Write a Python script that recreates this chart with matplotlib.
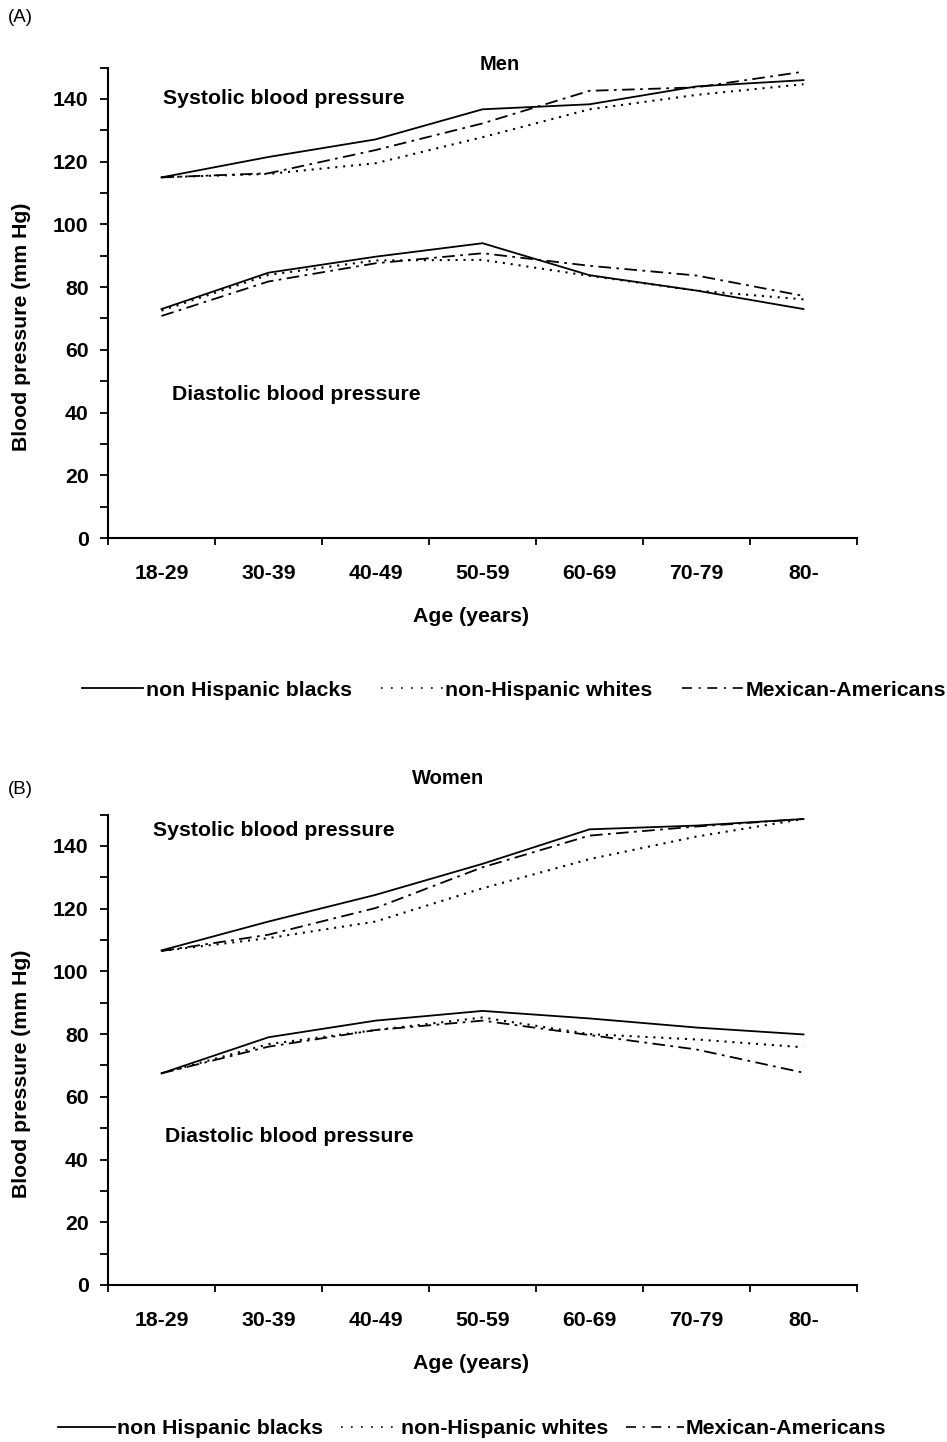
import matplotlib
matplotlib.use("Agg")
import matplotlib.pyplot as plt
from matplotlib.ticker import MultipleLocator, FixedLocator, NullFormatter
from matplotlib.lines import Line2D
import numpy as np

plt.rcParams['font.family'] = ['Liberation Sans', 'DejaVu Sans']

age_groups = ["18-29", "30-39", "40-49", "50-59", "60-69", "70-79", "80-"]
series_names = ["non Hispanic blacks", "non-Hispanic whites", "Mexican-Americans"]

# Men
men_sys_black = [115.0, 121.5, 127.1, 136.7, 138.3, 144.0, 146.0]
men_sys_white = [115.0, 116.1, 119.5, 127.8, 136.7, 141.3, 144.7]
men_sys_mex = [115.0, 116.3, 123.7, 132.2, 142.6, 143.7, 148.7]
men_dia_black = [73.0, 84.6, 89.7, 94.0, 83.8, 78.9, 73.0]
men_dia_white = [72.5, 83.9, 88.5, 88.7, 83.6, 78.9, 76.1]
men_dia_mex = [70.8, 81.8, 87.6, 90.8, 86.8, 83.7, 77.2]

# Women
women_sys_black = [106.7, 115.9, 124.4, 134.3, 145.3, 146.5, 148.6]
women_sys_white = [106.5, 110.6, 115.9, 126.5, 135.8, 143.0, 148.6]
women_sys_mex = [106.5, 111.7, 120.2, 133.2, 143.3, 146.2, 148.6]
women_dia_black = [67.5, 79.0, 84.3, 87.4, 85.0, 82.1, 79.9]
women_dia_white = [67.5, 76.8, 81.3, 85.3, 80.0, 78.3, 75.8]
women_dia_mex = [67.5, 76.0, 81.3, 84.3, 79.7, 75.1, 67.7]

W, H = 947, 1442
fig = plt.figure(figsize=(W / 100, H / 100), dpi=100)

FS = 15.3

styles = [
    dict(linestyle='-', color='black', linewidth=1.3),
    dict(linestyle=(0, (1.0, 2.8)), color='black', linewidth=1.5),
    dict(linestyle=(0, (7, 3, 1.5, 3)), color='black', linewidth=1.3),
]
legend_styles = [
    dict(linestyle='-', color='black', linewidth=1.3),
    dict(linestyle=(0, (1.0, 5.0)), color='black', linewidth=1.2),
    dict(linestyle=(0, (6, 4, 1.2, 4)), color='black', linewidth=1.2),
]

def ax_rect(left_px, right_px, top_px, bottom_px):
    return [left_px / W, 1 - bottom_px / H, (right_px - left_px) / W, (bottom_px - top_px) / H]

def make_panel(rect, data_sys, data_dia, title, title_xy, sys_xy, dia_xy):
    ax = fig.add_axes(rect)
    x = np.arange(len(age_groups))
    for d, st in zip(data_sys, styles):
        ax.plot(x, d, **st)
    for d, st in zip(data_dia, styles):
        ax.plot(x, d, **st)
    ax.set_xlim(-0.5, len(age_groups) - 0.5)
    ax.set_ylim(0, 150)
    ax.spines['top'].set_visible(False)
    ax.spines['right'].set_visible(False)
    ax.spines['left'].set_linewidth(1.5)
    ax.spines['bottom'].set_linewidth(1.5)
    ax.xaxis.set_major_locator(FixedLocator(np.arange(-0.5, len(age_groups), 1.0)))
    ax.xaxis.set_major_formatter(NullFormatter())
    ax.xaxis.set_minor_locator(FixedLocator(x))
    ax.set_xticklabels(age_groups, minor=True, fontsize=FS, fontweight='bold')
    ax.tick_params(axis='x', which='major', direction='out', length=5, width=1.3)
    ax.tick_params(axis='x', which='minor', length=0, pad=19)
    ax.yaxis.set_major_locator(MultipleLocator(20))
    ax.yaxis.set_minor_locator(MultipleLocator(10))
    ax.tick_params(axis='y', which='major', direction='out', length=6, width=1.3, labelsize=FS, pad=8)
    ax.tick_params(axis='y', which='minor', direction='out', length=6, width=1.3)
    for lab in ax.get_yticklabels():
        lab.set_fontweight('bold')
    ax.set_ylabel("Blood pressure (mm Hg)", fontsize=FS, fontweight='bold', labelpad=16)
    ax.yaxis.label.set_y(0.45)
    ax.set_xlabel("Age (years)", fontsize=FS, fontweight='bold', labelpad=17)
    ax.xaxis.label.set_x(0.484)
    fig.text(title_xy[0] / W, 1 - title_xy[1] / H, title, fontsize=14.5, fontweight='bold',
             ha='center', va='center')
    fig.text(sys_xy[0] / W, 1 - sys_xy[1] / H, "Systolic blood pressure", fontsize=FS,
             fontweight='bold', ha='left', va='center')
    fig.text(dia_xy[0] / W, 1 - dia_xy[1] / H, "Diastolic blood pressure", fontsize=FS,
             fontweight='bold', ha='left', va='center')
    return ax

axA = make_panel(ax_rect(108, 857, 67.6, 538),
                 [men_sys_black, men_sys_white, men_sys_mex],
                 [men_dia_black, men_dia_white, men_dia_mex],
                 "Men", (500, 65), (163, 98), (172, 395))
axB = make_panel(ax_rect(108, 857, 814.6, 1285),
                 [women_sys_black, women_sys_white, women_sys_mex],
                 [women_dia_black, women_dia_white, women_dia_mex],
                 "Women", (448, 778), (153, 830), (165, 1136))

fig.text(8 / W, 1 - 17 / H, "(A)", fontsize=13.5, ha='left', va='center')
fig.text(8 / W, 1 - 790 / H, "(B)", fontsize=13.5, ha='left', va='center')

handles = [Line2D([], [], **st) for st in legend_styles]

fig.legend(handles, series_names, loc='center', bbox_to_anchor=(514 / W, 1 - 690 / H),
           ncol=3, frameon=False, prop={'size': FS, 'weight': 'bold'},
           handlelength=2.9, handletextpad=0.1, columnspacing=1.4, borderaxespad=0)
fig.legend(handles, series_names, loc='center', bbox_to_anchor=(472 / W, 1 - 1429 / H),
           ncol=3, frameon=False, prop={'size': FS, 'weight': 'bold'},
           handlelength=2.7, handletextpad=0.1, columnspacing=0.85, borderaxespad=0)

fig.savefig("out.png", dpi=100)
